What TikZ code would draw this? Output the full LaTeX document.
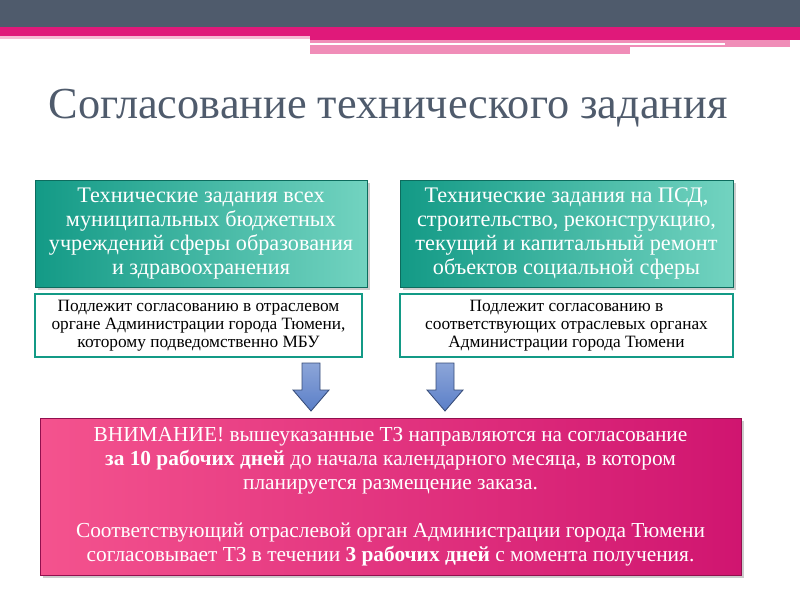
\documentclass[tikz,border=0pt]{standalone}
\usepackage{fontspec}
\setmainfont{Liberation Serif}
\usetikzlibrary{shadows}
\definecolor{dbar}{HTML}{4F5B6C}
\definecolor{pk}{HTML}{E0197A}
\definecolor{lpk}{HTML}{F08DB8}
\definecolor{tealA}{HTML}{139A86}
\definecolor{tealB}{HTML}{72D3C0}
\definecolor{pinkA}{HTML}{F4538E}
\definecolor{pinkB}{HTML}{D01570}
\definecolor{arrowblue}{HTML}{5B7FC8}
\tikzset{
 px/.style={x=0.025cm,y=-0.025cm},
 tealbox/.style={draw=tealA!70!black,line width=0.6pt,left color=tealA,right color=tealB,text=white,align=center,font=\fontsize{15.8}{17}\selectfont,inner sep=0pt,drop shadow={opacity=0.4}},
 wbox/.style={draw=tealA,line width=0.8pt,fill=white,align=center,font=\fontsize{12.3}{13}\selectfont,inner sep=0pt},
 pbox/.style={draw=pinkB!70!black,line width=0.6pt,left color=pinkA,right color=pinkB,text=white,align=center,font=\fontsize{15.2}{17}\selectfont,inner sep=0pt,drop shadow={opacity=0.4}},
 darr/.style={draw=arrowblue!60!black,line width=0.6pt,top color=arrowblue!70!white,bottom color=arrowblue}
}
\begin{document}
\begin{tikzpicture}[px]
\useasboundingbox (0,0) rectangle (800,600);
\fill[dbar] (0,0) rectangle (800,27);
\fill[pk] (0,27) rectangle (800,36);
\fill[lpk!60] (0,36) rectangle (310,39);
\fill[pk] (310,36) rectangle (800,40);
\fill[lpk] (310,40) rectangle (790,47);
\fill[white] (310,43) rectangle (725,45);
\fill[lpk] (310,47) rectangle (630,54);
\node[font=\fontsize{31.5}{34}\selectfont,text=dbar] (title) at (388,108) {Согласование технического задания};
\node[tealbox,minimum width=332*0.025cm,minimum height=107*0.025cm] (t1) at (201,233.5) {Технические задания всех\\муниципальных бюджетных\\учреждений сферы образования\\и здравоохранения};
\node[tealbox,minimum width=333*0.025cm,minimum height=107*0.025cm] (t2) at (566.5,233.5) {Технические задания на ПСД,\\строительство, реконструкцию,\\текущий и капитальный ремонт\\объектов социальной сферы};
\node[wbox,minimum width=327*0.025cm,minimum height=63*0.025cm] (w1) at (198.5,325.5) {Подлежит согласованию в отраслевом\\органе Администрации города Тюмени,\\которому подведомственно МБУ};
\node[wbox,minimum width=333*0.025cm,minimum height=63*0.025cm] (w2) at (566.5,325.5) {Подлежит согласованию в\\соответствующих отраслевых органах\\Администрации города Тюмени};
\node[pbox,minimum width=701*0.025cm,minimum height=157*0.025cm] (p) at (390.5,496.5) {ВНИМАНИЕ! вышеуказанные ТЗ направляются на согласование\\\textbf{за 10 рабочих дней} до начала календарного месяца, в котором\\планируется размещение заказа.\\[17pt]Соответствующий отраслевой орган Администрации города Тюмени\\согласовывает ТЗ в течении \textbf{3 рабочих дней} с момента получения.};
\path[darr] (302,363) -- (320,363) -- (320,390) -- (329,390) -- (311,411) -- (293,390) -- (302,390) -- cycle;
\path[darr] (436,363) -- (454,363) -- (454,390) -- (463,390) -- (445,411) -- (427,390) -- (436,390) -- cycle;
\end{tikzpicture}
\end{document}
